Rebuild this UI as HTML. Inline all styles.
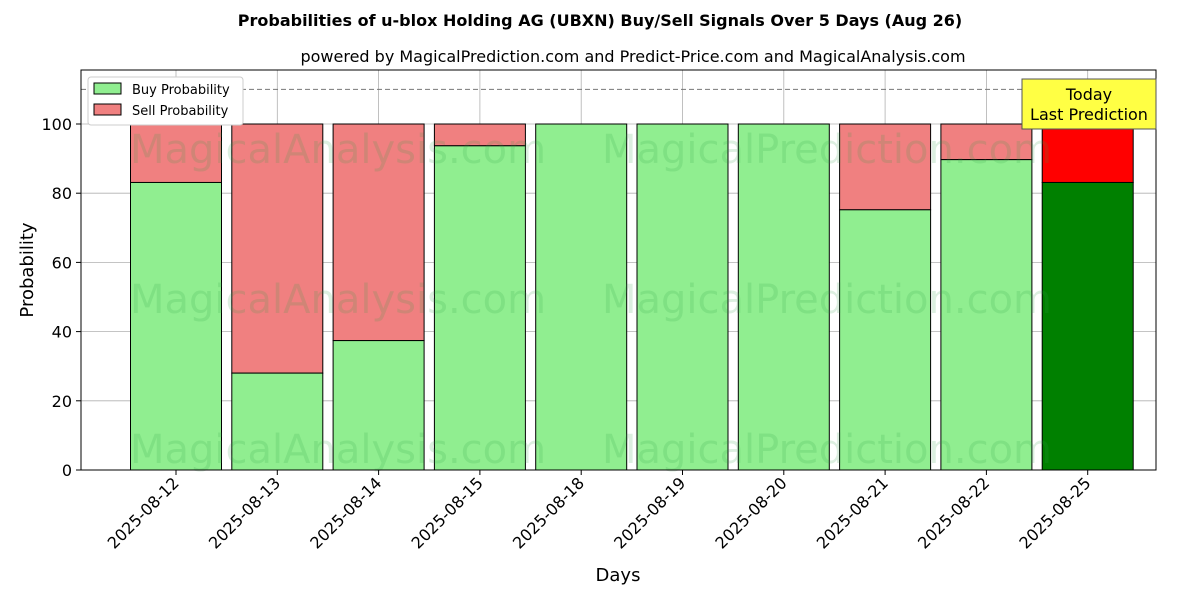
<!DOCTYPE html>
<html><head><meta charset="utf-8"><style>
body{margin:0;background:#fff;font-family:"Liberation Sans","DejaVu Sans",sans-serif;}
svg text{font-family:"DejaVu Sans","Liberation Sans",sans-serif;}
</style></head><body>
<svg id="chart" width="1200" height="600" xmlns="http://www.w3.org/2000/svg">
<rect width="1200" height="600" fill="#fff"/>
<text x="600" y="26" text-anchor="middle" font-size="16" font-weight="bold">Probabilities of u-blox Holding AG (UBXN) Buy/Sell Signals Over 5 Days (Aug 26)</text>
<text x="633" y="62" text-anchor="middle" font-size="16">powered by MagicalPrediction.com and Predict-Price.com and MagicalAnalysis.com</text>
<g id="grid"></g>
<g id="bars"></g>
<g id="wm" fill="#2e9e4a" fill-opacity="0.17" font-size="40">
<text x="130" y="163">MagicalAnalysis.com</text>
<text x="602" y="163">MagicalPrediction.com</text>
<text x="130" y="313">MagicalAnalysis.com</text>
<text x="602" y="313">MagicalPrediction.com</text>
<text x="130" y="463">MagicalAnalysis.com</text>
<text x="602" y="463">MagicalPrediction.com</text>
</g>
<line x1="81" x2="1156" y1="89.4" y2="89.4" stroke="#777" stroke-dasharray="5,3"/>
<rect x="81" y="70" width="1075" height="400" fill="none" stroke="#000"/>
<g id="axes"></g>
<text x="33" y="270" transform="rotate(-90 33 270)" text-anchor="middle" font-size="18">Probability</text>
<text x="618" y="581" text-anchor="middle" font-size="18">Days</text>
<g>
<rect x="1022" y="79" width="134" height="50" fill="#ffff44" stroke="#555"/>
<text x="1089" y="100" text-anchor="middle" font-size="16">Today</text>
<text x="1089" y="120" text-anchor="middle" font-size="16">Last Prediction</text>
</g>
<g>
<rect x="88" y="77" width="155" height="48" fill="#fff" stroke="#ccc" rx="3"/>
<rect x="94" y="83" width="27" height="11" fill="#90ee90" stroke="#000"/>
<text x="132" y="94" font-size="13">Buy Probability</text>
<rect x="94" y="104" width="27" height="11" fill="#f08080" stroke="#000"/>
<text x="132" y="115" font-size="13">Sell Probability</text>
</g>
</svg>
<script>
const categories=["2025-08-12","2025-08-13","2025-08-14","2025-08-15","2025-08-18","2025-08-19","2025-08-20","2025-08-21","2025-08-22","2025-08-25"];
const buyValues=[83.1,28.0,37.4,93.7,100,100,100,75.2,89.7,83.1];
const yTicks=[0,20,40,60,80,100];
const NS="http://www.w3.org/2000/svg";
const y=v=>470-v*3.46;
const x=i=>176+i*101.3;
const bw=91;
function mk(tag,attrs,parent){const e=document.createElementNS(NS,tag);for(const k in attrs)e.setAttribute(k,attrs[k]);parent.appendChild(e);return e;}
const grid=document.getElementById('grid'),bars=document.getElementById('bars'),axes=document.getElementById('axes');
yTicks.forEach(t=>{
 const g=mk('line',{x1:81,x2:1156,y1:y(t),y2:y(t),stroke:'#b0b0b0','stroke-width':0.8},grid);
 
 
 mk('line',{x1:76,x2:81,y1:y(t),y2:y(t),stroke:'#000'},axes);
 const tx=mk('text',{x:72,y:y(t)+6,'text-anchor':'end','font-size':16},axes);
 tx.textContent=t;
 
 
});
categories.forEach((c,i)=>{
 const cx=x(i);
 const gl=mk('line',{x1:cx,x2:cx,y1:70,y2:470,stroke:'#b0b0b0','stroke-width':0.8},grid);
 
 
 const last=i===categories.length-1;
 const b=buyValues[i];
 const s=mk('rect',{x:cx-bw/2,y:y(100),width:bw,height:y(b)-y(100),fill:last?'#ff0000':'#f08080',stroke:'#000'},bars);
 
 
 const r=mk('rect',{x:cx-bw/2,y:y(b),width:bw,height:470-y(b),fill:last?'#008000':'#90ee90',stroke:'#000'},bars);
 
 
 mk('line',{x1:cx,x2:cx,y1:470,y2:475,stroke:'#000'},axes);
 const tx=mk('text',{x:cx+4,y:484,'text-anchor':'end','font-size':16,transform:`rotate(-45 ${cx+4} 484)`},axes);
 tx.textContent=c;
 
 
});
</script>
</body></html>
